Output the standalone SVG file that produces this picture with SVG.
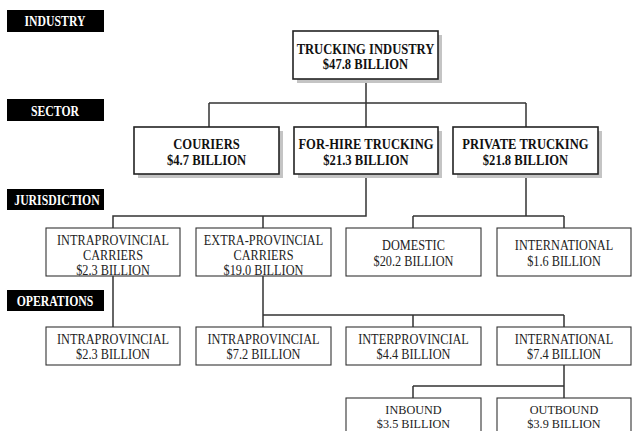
<svg xmlns="http://www.w3.org/2000/svg" width="632" height="431" viewBox="0 0 632 431">
  <style>
    .tag { fill: #000; }
    .tagtxt { font-family: "Liberation Serif", "Times New Roman", serif; font-weight: bold; font-size: 14px; fill: #fff; text-anchor: middle; }
    .shadow { fill: #c4c4c4; }
    .main { fill: #fff; stroke: #222; stroke-width: 1.6; }
    .sub { fill: #fff; stroke: #333; stroke-width: 1.1; }
    .bt { font-family: "Liberation Serif", "Times New Roman", serif; font-weight: bold; font-size: 15px; fill: #111; text-anchor: middle; }
    .rt { font-family: "Liberation Serif", "Times New Roman", serif; font-size: 15px; fill: #222; text-anchor: middle; }
    .st { font-family: "Liberation Serif", "Times New Roman", serif; font-size: 14px; fill: #222; text-anchor: middle; }
    .xt { font-family: "Liberation Serif", "Times New Roman", serif; font-size: 13px; fill: #222; text-anchor: middle; }
    .wire { fill: none; stroke: #333; stroke-width: 1.5; }
  </style>

  <rect width="632" height="431" fill="#fff"/>

  <!-- level tags -->
  <g id="tag-industry">
    <rect class="tag" x="7" y="10" width="97" height="22"/>
    <text class="tagtxt" transform="translate(55 26) scale(0.84 1)">INDUSTRY</text>
  </g>
  <g id="tag-sector">
    <rect class="tag" x="7" y="99" width="97" height="22"/>
    <text class="tagtxt" transform="translate(55 115.5) scale(0.84 1)">SECTOR</text>
  </g>
  <g id="tag-jurisdiction">
    <rect class="tag" x="7" y="189" width="97" height="21"/>
    <text class="tagtxt" transform="translate(57 205) scale(0.84 1)">JURISDICTION</text>
  </g>
  <g id="tag-operations">
    <rect class="tag" x="7" y="290" width="97" height="21"/>
    <text class="tagtxt" transform="translate(55 305.5) scale(0.84 1)">OPERATIONS</text>
  </g>

  <!-- connectors -->
  <g id="connectors" class="wire">
    <path d="M366 79 V103 M209 103 H526 M209 103 V127 M366 103 V127 M526 103 V127"/>
    <path d="M366 174 V216 H113 V228 M263 216 V228"/>
    <path d="M526 174 V216 M413 216 H564 M413 216 V228 M564 216 V228"/>
    <path d="M113 276 V327"/>
    <path d="M263 276 V327 M263 315 H564 M413 315 V327 M564 315 V327"/>
    <path d="M564 365 V386 M413 386 H564 M413 386 V398 M564 386 V398"/>
  </g>

  <!-- industry -->
  <g id="trucking-industry">
    <rect class="shadow" x="297" y="35" width="145" height="48"/>
    <rect class="main" x="293" y="31" width="145" height="48"/>
    <text class="bt" transform="translate(365.5 54) scale(0.84 1)">TRUCKING INDUSTRY</text>
    <text class="bt" transform="translate(365.5 69) scale(0.84 1)">$47.8 BILLION</text>
  </g>

  <!-- sectors -->
  <g id="couriers">
    <rect class="shadow" x="138" y="131" width="145" height="47"/>
    <rect class="main" x="134" y="127" width="145" height="47"/>
    <text class="bt" transform="translate(206.5 149) scale(0.84 1)">COURIERS</text>
    <text class="bt" transform="translate(206.5 164.5) scale(0.84 1)">$4.7 BILLION</text>
  </g>
  <g id="for-hire-trucking">
    <rect class="shadow" x="298" y="131" width="144" height="47"/>
    <rect class="main" x="294" y="127" width="144" height="47"/>
    <text class="bt" transform="translate(366 149) scale(0.84 1)">FOR-HIRE TRUCKING</text>
    <text class="bt" transform="translate(366 164.5) scale(0.84 1)">$21.3 BILLION</text>
  </g>
  <g id="private-trucking">
    <rect class="shadow" x="457" y="131" width="145" height="47"/>
    <rect class="main" x="453" y="127" width="145" height="47"/>
    <text class="bt" transform="translate(525.5 149) scale(0.84 1)">PRIVATE TRUCKING</text>
    <text class="bt" transform="translate(525.5 164.5) scale(0.84 1)">$21.8 BILLION</text>
  </g>

  <!-- jurisdictions -->
  <g id="intraprovincial-carriers">
    <rect class="sub" x="46" y="228" width="134" height="48"/>
    <text class="rt" transform="translate(113 244.5) scale(0.82 1)">INTRAPROVINCIAL</text>
    <text class="rt" transform="translate(113 259.5) scale(0.82 1)">CARRIERS</text>
    <text class="rt" transform="translate(113 274.5) scale(0.82 1)">$2.3 BILLION</text>
  </g>
  <g id="extra-provincial-carriers">
    <rect class="sub" x="196" y="228" width="135" height="48"/>
    <text class="rt" transform="translate(263.5 244.5) scale(0.82 1)">EXTRA-PROVINCIAL</text>
    <text class="rt" transform="translate(263.5 259.5) scale(0.82 1)">CARRIERS</text>
    <text class="rt" transform="translate(263.5 274.5) scale(0.82 1)">$19.0 BILLION</text>
  </g>
  <g id="domestic">
    <rect class="sub" x="346" y="228" width="135" height="48"/>
    <text class="rt" transform="translate(413.5 250) scale(0.82 1)">DOMESTIC</text>
    <text class="rt" transform="translate(413.5 265.5) scale(0.82 1)">$20.2 BILLION</text>
  </g>
  <g id="private-international">
    <rect class="sub" x="497" y="228" width="134" height="48"/>
    <text class="rt" transform="translate(564 250) scale(0.82 1)">INTERNATIONAL</text>
    <text class="rt" transform="translate(564 265.5) scale(0.82 1)">$1.6 BILLION</text>
  </g>

  <!-- operations -->
  <g id="ops-intraprovincial-a">
    <rect class="sub" x="46" y="327" width="134" height="38"/>
    <text class="st" transform="translate(113 344) scale(0.88 1)">INTRAPROVINCIAL</text>
    <text class="st" transform="translate(113 359) scale(0.88 1)">$2.3 BILLION</text>
  </g>
  <g id="ops-intraprovincial-b">
    <rect class="sub" x="196" y="327" width="135" height="38"/>
    <text class="st" transform="translate(263.5 344) scale(0.88 1)">INTRAPROVINCIAL</text>
    <text class="st" transform="translate(263.5 359) scale(0.88 1)">$7.2 BILLION</text>
  </g>
  <g id="ops-interprovincial">
    <rect class="sub" x="346" y="327" width="135" height="38"/>
    <text class="st" transform="translate(413.5 344) scale(0.88 1)">INTERPROVINCIAL</text>
    <text class="st" transform="translate(413.5 359) scale(0.88 1)">$4.4 BILLION</text>
  </g>
  <g id="ops-international">
    <rect class="sub" x="497" y="327" width="134" height="38"/>
    <text class="st" transform="translate(564 344) scale(0.88 1)">INTERNATIONAL</text>
    <text class="st" transform="translate(564 359) scale(0.88 1)">$7.4 BILLION</text>
  </g>
  <g id="inbound">
    <rect class="sub" x="346" y="398" width="135" height="40"/>
    <text class="xt" transform="translate(413.5 413.5) scale(0.94 1)">INBOUND</text>
    <text class="xt" transform="translate(413.5 428) scale(0.94 1)">$3.5 BILLION</text>
  </g>
  <g id="outbound">
    <rect class="sub" x="497" y="398" width="134" height="40"/>
    <text class="xt" transform="translate(564 413.5) scale(0.94 1)">OUTBOUND</text>
    <text class="xt" transform="translate(564 428) scale(0.94 1)">$3.9 BILLION</text>
  </g>
</svg>
